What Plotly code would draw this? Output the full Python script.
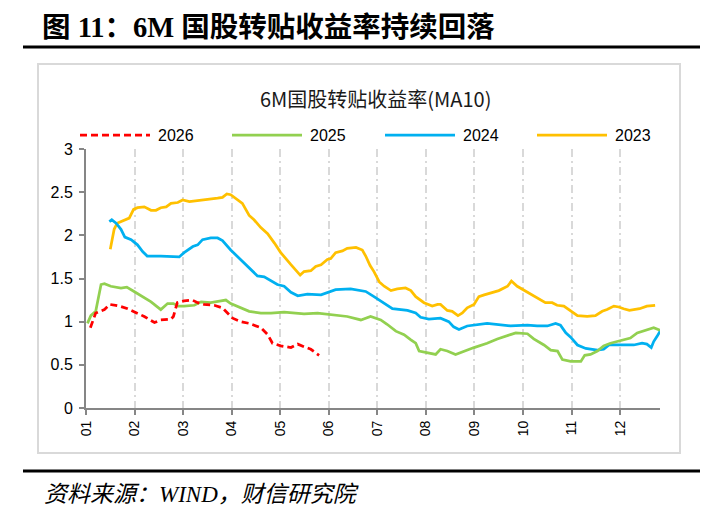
import plotly.graph_objects as go

# ---------------- data (x = month position, 0 = start of Jan) ----------------
month_labels = ["01", "02", "03", "04", "05", "06", "07", "08", "09", "10", "11", "12"]
month_pos = list(range(12))
y_tickvals = [0, 0.5, 1, 1.5, 2, 2.5, 3]
y_ticktext = ["0", "0.5", "1", "1.5", "2", "2.5", "3"]

series_names = ["2026", "2025", "2024", "2023"]

x_2026 = [0.09, 0.2, 0.38, 0.49, 0.69, 0.86, 1.01, 1.2, 1.41, 1.54, 1.75, 1.8, 1.88, 2.02, 2.19, 2.3,
          2.43, 2.64, 2.81, 3.02, 3.19, 3.36, 3.6, 3.74, 3.84, 4.01, 4.22, 4.36, 4.49, 4.63, 4.8]
y_2026 = [0.93, 1.10, 1.14, 1.20, 1.18, 1.15, 1.11, 1.06, 0.99, 1.02, 1.03, 1.06, 1.22, 1.24, 1.25, 1.22,
          1.20, 1.19, 1.16, 1.04, 1.00, 0.98, 0.93, 0.85, 0.75, 0.72, 0.70, 0.74, 0.71, 0.68, 0.61]

x_2025 = [0.03, 0.1, 0.2, 0.25, 0.31, 0.38, 0.51, 0.72, 0.84, 0.99, 1.13, 1.34, 1.54, 1.68, 1.8, 1.9,
          2.02, 2.23, 2.37, 2.57, 2.78, 2.88, 2.98, 3.12, 3.36, 3.6, 3.81, 4.08, 4.49, 4.77, 5.04, 5.38,
          5.66, 5.86, 6.07, 6.2, 6.38, 6.55, 6.69, 6.79, 6.86, 7.03, 7.2, 7.3, 7.44, 7.61, 7.78, 7.99,
          8.26, 8.47, 8.74, 8.85, 9.09, 9.22, 9.43, 9.57, 9.71, 9.81, 9.98, 10.19, 10.27, 10.39, 10.53,
          10.66, 10.8, 11.01, 11.21, 11.35, 11.52, 11.69, 11.82]
y_2025 = [0.98, 1.07, 1.12, 1.25, 1.43, 1.44, 1.41, 1.39, 1.40, 1.35, 1.30, 1.23, 1.14, 1.21, 1.21, 1.18,
          1.18, 1.19, 1.23, 1.22, 1.24, 1.25, 1.21, 1.18, 1.12, 1.10, 1.10, 1.11, 1.09, 1.10, 1.08, 1.06,
          1.02, 1.06, 1.02, 0.97, 0.89, 0.85, 0.79, 0.75, 0.66, 0.64, 0.62, 0.68, 0.66, 0.62, 0.66, 0.70,
          0.75, 0.80, 0.85, 0.87, 0.86, 0.80, 0.73, 0.67, 0.66, 0.56, 0.54, 0.54, 0.61, 0.62, 0.66,
          0.72, 0.75, 0.78, 0.81, 0.87, 0.90, 0.93, 0.90]

x_2024 = [0.48, 0.53, 0.62, 0.72, 0.8, 0.93, 1.06, 1.17, 1.26, 1.54, 1.92, 2.02, 2.2, 2.3, 2.4, 2.57,
          2.71, 2.81, 2.98, 3.19, 3.36, 3.53, 3.67, 3.81, 3.94, 4.08, 4.22, 4.36, 4.56, 4.84, 5.01, 5.14,
          5.45, 5.76, 5.93, 6.14, 6.31, 6.62, 6.79, 6.89, 7.06, 7.3, 7.47, 7.57, 7.68, 7.85, 8.26, 8.74,
          9.09, 9.29, 9.5, 9.67, 9.77, 9.88, 9.98, 10.12, 10.29, 10.53, 10.66, 10.77, 11.01, 11.28, 11.45,
          11.55, 11.64, 11.69, 11.76, 11.83]
y_2024 = [2.16, 2.18, 2.14, 2.07, 1.98, 1.95, 1.89, 1.81, 1.76, 1.76, 1.75, 1.80, 1.87, 1.89, 1.95, 1.97,
          1.97, 1.94, 1.83, 1.72, 1.62, 1.53, 1.52, 1.47, 1.43, 1.41, 1.34, 1.30, 1.32, 1.31, 1.34, 1.37,
          1.38, 1.35, 1.29, 1.21, 1.15, 1.13, 1.10, 1.05, 1.03, 1.04, 1.00, 0.94, 0.91, 0.95, 0.98, 0.95,
          0.96, 0.95, 0.95, 0.98, 0.96, 0.87, 0.82, 0.73, 0.69, 0.67, 0.68, 0.73, 0.73, 0.73, 0.75,
          0.74, 0.70, 0.77, 0.83, 0.90]

x_2023 = [0.5, 0.58, 0.64, 0.75, 0.89, 0.98, 1.06, 1.2, 1.34, 1.44, 1.54, 1.65, 1.75, 1.89, 1.99, 2.13,
          2.3, 2.5, 2.71, 2.81, 2.9, 2.98, 3.12, 3.22, 3.36, 3.46, 3.6, 3.74, 3.88, 4.01, 4.22, 4.41,
          4.49, 4.63, 4.73, 4.84, 4.97, 5.04, 5.14, 5.28, 5.38, 5.56, 5.69, 5.76, 5.85, 5.93, 6.04, 6.14,
          6.28, 6.41, 6.58, 6.69, 6.79, 6.96, 7.13, 7.24, 7.3, 7.44, 7.54, 7.66, 7.75, 7.85, 7.99, 8.09,
          8.2, 8.37, 8.5, 8.68, 8.76, 8.88, 9.09, 9.29, 9.46, 9.6, 9.7, 9.84, 9.98, 10.12, 10.32, 10.49,
          10.63, 10.73, 10.87, 10.97, 11.07, 11.19, 11.4, 11.55, 11.72]
y_2023 = [1.84, 2.07, 2.14, 2.17, 2.20, 2.30, 2.32, 2.33, 2.29, 2.29, 2.32, 2.33, 2.37, 2.38, 2.41, 2.39,
          2.40, 2.42, 2.43, 2.44, 2.48, 2.47, 2.41, 2.37, 2.23, 2.18, 2.09, 2.02, 1.91, 1.80, 1.66, 1.54,
          1.58, 1.59, 1.64, 1.66, 1.72, 1.73, 1.80, 1.82, 1.85, 1.86, 1.83, 1.76, 1.65, 1.58, 1.46, 1.41,
          1.36, 1.38, 1.39, 1.36, 1.29, 1.22, 1.18, 1.20, 1.20, 1.13, 1.12, 1.07, 1.10, 1.16, 1.20, 1.29,
          1.31, 1.34, 1.36, 1.41, 1.47, 1.41, 1.34, 1.28, 1.22, 1.22, 1.19, 1.18, 1.12, 1.07, 1.06, 1.07,
          1.12, 1.14, 1.18, 1.17, 1.15, 1.13, 1.15, 1.18, 1.19]

# ---------------- styling ----------------
colors = {"2026": "#FF0000", "2025": "#92D050", "2024": "#00B0F0", "2023": "#FFC000"}
dashes = {"2026": "7px,4px", "2025": "solid", "2024": "solid", "2023": "solid"}
xs = {"2026": x_2026, "2025": x_2025, "2024": x_2024, "2023": x_2023}
ys = {"2026": y_2026, "2025": y_2025, "2024": y_2024, "2023": y_2023}

W, H = 714, 522
PL, PR, PT, PB = 86, 660, 149, 408  # plot-area pixel edges


def px(x):
    return (x - PL) / (PR - PL)


def py(y):
    return (PB - y) / (PB - PT)


fig = go.Figure()
for name in ["2023", "2024", "2025", "2026"]:
    fig.add_trace(go.Scatter(
        x=xs[name], y=ys[name], mode="lines", name=name,
        line=dict(color=colors[name], width=2.75, dash=dashes[name]),
    ))

shapes = [
    dict(type="rect", xref="paper", yref="paper", x0=px(38), x1=px(680), y0=py(453), y1=py(64),
         line=dict(color="#D9D9D9", width=2), fillcolor="rgba(0,0,0,0)", layer="below"),
    dict(type="line", xref="paper", yref="paper", x0=px(23), x1=px(700), y0=py(47), y1=py(47),
         line=dict(color="#000000", width=3)),
    dict(type="line", xref="paper", yref="paper", x0=px(23), x1=px(700), y0=py(471), y1=py(471),
         line=dict(color="#000000", width=3)),
]

annotations = [
    dict(text="<b>图 11：6M 国股转贴收益率持续回落</b>", xref="paper", yref="paper",
         x=px(40), y=py(27), xanchor="left", yanchor="middle", showarrow=False,
         font=dict(family="Liberation Serif, Noto Sans CJK SC", size=28.5, color="#000000")),
    dict(text="6M国股转贴收益率(MA10)", xref="paper", yref="paper",
         x=px(375), y=py(99), xanchor="center", yanchor="middle", showarrow=False,
         font=dict(family="Noto Sans CJK SC", size=20, color="#1A1A1A")),
    dict(text="<i>资料来源：WIND，财信研究院</i>", xref="paper", yref="paper",
         x=px(42), y=py(494), xanchor="left", yanchor="middle", showarrow=False,
         font=dict(family="Liberation Serif, Noto Sans CJK SC", size=23, color="#000000")),
]

leg_x0 = {"2026": 80, "2025": 232, "2024": 385, "2023": 537}
for name in series_names:
    x0 = leg_x0[name]
    shapes.append(dict(type="line", xref="paper", yref="paper",
                       x0=px(x0), x1=px(x0 + 70), y0=py(135), y1=py(135),
                       line=dict(color=colors[name], width=2.75, dash=dashes[name])))
    annotations.append(dict(text=name, xref="paper", yref="paper",
                            x=px(x0 + 76), y=py(135), xanchor="left", yanchor="middle",
                            showarrow=False,
                            font=dict(family="Liberation Sans", size=16, color="#000000")))

fig.update_layout(
    width=W, height=H,
    margin=dict(l=PL, r=W - PR, t=PT, b=H - PB, pad=0),
    paper_bgcolor="white", plot_bgcolor="white",
    showlegend=False,
    shapes=shapes, annotations=annotations,
    xaxis=dict(
        range=[0, 11.82], tickvals=month_pos, ticktext=month_labels, tickangle=-90,
        showgrid=True, gridcolor="#D9D9D9", gridwidth=1.5, griddash="8px,4px,2px,4px",
        showline=True, linecolor="#868686", linewidth=2,
        ticks="outside", ticklen=5, tickwidth=2, tickcolor="#868686",
        tickfont=dict(family="Liberation Sans", size=14, color="#000000"),
        zeroline=False, fixedrange=True,
    ),
    yaxis=dict(
        range=[0, 3], tickvals=y_tickvals, ticktext=y_ticktext,
        showgrid=False, showline=True, linecolor="#868686", linewidth=2,
        ticks="outside", ticklen=5, tickwidth=2, tickcolor="#868686",
        ticklabelstandoff=3,
        tickfont=dict(family="Liberation Sans", size=16, color="#000000"),
        zeroline=False, fixedrange=True,
    ),
)

fig.write_html("out.html")
